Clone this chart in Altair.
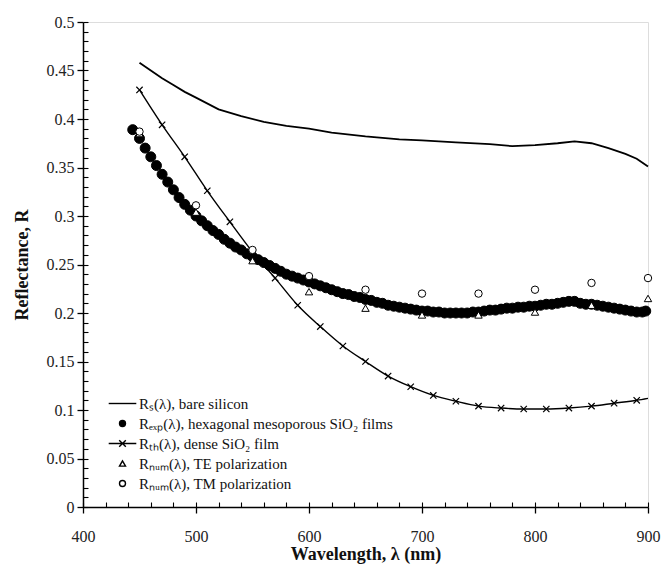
import altair as alt
import pandas as pd

# ---------------- data ----------------
wl_bare = [450, 460, 470, 480, 490, 500, 520, 540, 560, 580, 600, 620, 650, 680, 700,
           730, 760, 780, 800, 820, 835, 850, 865, 880, 890, 900]
r_bare = [0.458, 0.450, 0.442, 0.435, 0.428, 0.422, 0.410, 0.403, 0.397, 0.393, 0.390,
          0.386, 0.382, 0.379, 0.378, 0.376, 0.374, 0.372, 0.373, 0.375, 0.377, 0.375,
          0.370, 0.364, 0.359, 0.351]

wl_exp = [444, 450, 455, 460, 465, 470, 475, 480, 485, 490, 495, 500, 505, 510, 515, 520,
          525, 530, 535, 540, 545, 550, 555, 560, 565, 570, 575, 580, 585, 590, 595, 600,
          605, 610, 615, 620, 625, 630, 635, 640, 645, 650, 655, 660, 665, 670, 675, 680,
          685, 690, 695, 700, 705, 710, 715, 720, 725, 730, 735, 740, 745, 750, 755, 760,
          765, 770, 775, 780, 785, 790, 795, 800, 805, 810, 815, 820, 825, 830, 835, 840,
          845, 850, 855, 860, 865, 870, 875, 880, 885, 890, 895, 898]
r_exp = [0.389, 0.380, 0.370, 0.361, 0.352, 0.343, 0.335, 0.327, 0.319, 0.312, 0.306, 0.300,
         0.295, 0.290, 0.285, 0.281, 0.276, 0.272, 0.268, 0.265, 0.261, 0.258, 0.255, 0.252,
         0.249, 0.246, 0.243, 0.240, 0.238, 0.236, 0.234, 0.232, 0.230, 0.228, 0.226, 0.224,
         0.222, 0.220, 0.219, 0.217, 0.216, 0.214, 0.213, 0.211, 0.210, 0.208, 0.207, 0.206,
         0.205, 0.204, 0.203, 0.202, 0.202, 0.201, 0.201, 0.200, 0.200, 0.200, 0.200, 0.200,
         0.201, 0.201, 0.202, 0.203, 0.203, 0.204, 0.205, 0.205, 0.206, 0.206, 0.207, 0.207,
         0.208, 0.209, 0.209, 0.210, 0.211, 0.212, 0.212, 0.210, 0.209, 0.209, 0.208, 0.207,
         0.206, 0.205, 0.204, 0.203, 0.202, 0.201, 0.201, 0.202]

wl_dense = [450, 470, 490, 510, 530, 550, 570, 590, 610, 630, 650, 670, 690, 710, 730,
            750, 770, 790, 810, 830, 850, 870, 890, 900]
r_dense = [0.430, 0.394, 0.361, 0.326, 0.294, 0.263, 0.236, 0.208, 0.186, 0.166, 0.150,
           0.135, 0.124, 0.115, 0.109, 0.104, 0.102, 0.101, 0.101, 0.102, 0.104, 0.107,
           0.110, 0.112]
dense_marked = [True] * 23 + [False]

wl_num = [450, 500, 550, 600, 650, 700, 750, 800, 850, 900]
r_te = [0.385, 0.304, 0.254, 0.222, 0.205, 0.198, 0.198, 0.201, 0.208, 0.215]
r_tm = [0.387, 0.311, 0.265, 0.238, 0.224, 0.220, 0.220, 0.224, 0.231, 0.236]

series_names = [
    "R\u209b(\u03bb), bare silicon",
    "R\u2091\u2093\u209a(\u03bb), hexagonal mesoporous SiO\u2082 films",
    "R\u209c\u2095(\u03bb), dense SiO\u2082 film",
    "R\u2099\u1d64\u2098(\u03bb), TE polarization",
    "R\u2099\u1d64\u2098(\u03bb), TM polarization",
]

x_major = [400, 500, 600, 700, 800, 900]
x_minor = list(range(400, 901, 20))
y_major = [0, 0.05, 0.1, 0.15, 0.2, 0.25, 0.3, 0.35, 0.4, 0.45, 0.5]
y_minor = [i / 100 for i in range(0, 51)]

# ---------------- tables ----------------
df_bare = pd.DataFrame({"wl": wl_bare, "R": r_bare})
df_dense = pd.DataFrame({"wl": wl_dense, "R": r_dense, "marked": dense_marked})
df_exp = pd.DataFrame({"wl": wl_exp, "R": r_exp, "series": series_names[1]})
df_num = pd.concat([
    pd.DataFrame({"wl": wl_num, "R": r_te, "series": series_names[3]}),
    pd.DataFrame({"wl": wl_num, "R": r_tm, "series": series_names[4]}),
], ignore_index=True)

FONT = "Liberation Serif"
xs = alt.Scale(domain=[400, 900], nice=False, zero=False)
ys = alt.Scale(domain=[0, 0.5], nice=False)

x_main_axis = alt.Axis(values=x_major, format="d", tickSize=6, labelFontSize=16,
                       labelFont=FONT, labelColor="#222", labelPadding=15, labelFlush=False,
                       title="Wavelength, \u03bb (nm)", titleFont=FONT, titleFontSize=18,
                       titleFontWeight="bold", titleColor="#111", titlePadding=1,
                       domainColor="black", domainWidth=1.5, tickColor="black",
                       tickWidth=1.3, grid=False, orient="bottom")
y_main_axis = alt.Axis(values=y_major, format=".2~f", tickSize=6, labelFontSize=16,
                       labelFont=FONT, labelColor="#222", labelPadding=3, labelFlush=False,
                       title="Reflectance, R", titleFont=FONT, titleFontSize=18,
                       titleFontWeight="bold", titleColor="#111", titlePadding=15,
                       domainColor="black", domainWidth=1.5, tickColor="black",
                       tickWidth=1.3, grid=False, orient="left")
x_minor_axis = alt.Axis(values=x_minor, tickSize=5, offset=-5, labels=False, domain=False,
                        title="", tickColor="black", tickWidth=1.1, grid=False,
                        orient="bottom")
y_minor_axis = alt.Axis(values=y_minor, tickSize=5, offset=-5, labels=False, domain=False,
                        title="", tickColor="black", tickWidth=1.1, grid=False,
                        orient="left")

bare = alt.Chart(df_bare).mark_line(color="black", strokeWidth=1.8).encode(
    x=alt.X("wl:Q", scale=xs, axis=x_main_axis),
    y=alt.Y("R:Q", scale=ys, axis=y_main_axis),
)

dense_line = alt.Chart(df_dense).mark_line(color="black", strokeWidth=1.4,
                                           interpolate="monotone").encode(
    x=alt.X("wl:Q", scale=xs, axis=x_minor_axis),
    y=alt.Y("R:Q", scale=ys, axis=y_minor_axis),
)

xpath = "M-1,-1L1,1M-1,1L1,-1"
dense_marks = alt.Chart(df_dense).transform_filter("datum.marked").mark_point(
    shape=xpath, size=40, color="black", strokeWidth=1.2, opacity=1
).encode(
    x=alt.X("wl:Q", scale=xs, axis=None),
    y=alt.Y("R:Q", scale=ys, axis=None),
)

shape_range = [
    "M-4.6,0L4.6,0",
    "circle",
    "M-4.6,0L4.6,0M-1.1,-1.1L1.1,1.1M-1.1,1.1L1.1,-1.1",
    "triangle-up",
    "circle",
]
fill_range = ["transparent", "black", "transparent", "white", "white"]
stroke_range = ["black", "black", "black", "black", "black"]
shape_scale = alt.Scale(domain=series_names, range=shape_range)
fill_scale = alt.Scale(domain=series_names, range=fill_range)
stroke_scale = alt.Scale(domain=series_names, range=stroke_range)

legend = alt.Legend(orient="none", legendX=32, legendY=374, title="",
                    labelFont=FONT, labelFontSize=15, labelColor="#111",
                    labelLimit=400, symbolSize=36, symbolStrokeWidth=1.4,
                    labelOffset=9, rowPadding=4)


def pts(df, size):
    return alt.Chart(df).mark_point(filled=False, strokeWidth=1, size=size,
                                    opacity=1).encode(
        x=alt.X("wl:Q", scale=xs, axis=None),
        y=alt.Y("R:Q", scale=ys, axis=None),
        shape=alt.Shape("series:N", scale=shape_scale, legend=legend),
        fill=alt.Fill("series:N", scale=fill_scale, legend=legend),
        stroke=alt.Stroke("series:N", scale=stroke_scale, legend=legend),
    )


exp_pts = pts(df_exp, 100)
num_pts = pts(df_num, 55)

chart = alt.layer(bare, dense_line, dense_marks, exp_pts, num_pts).resolve_axis(
    x="independent", y="independent"
).properties(
    width=565, height=485,
    autosize=alt.AutoSizeParams(type="none"),
    padding={"left": 83, "top": 22, "right": 19, "bottom": 63},
).configure_view(
    stroke="#858585", strokeWidth=2
).configure(background="white")

chart.save("out.html", embed_options={"renderer": "svg", "actions": False})
